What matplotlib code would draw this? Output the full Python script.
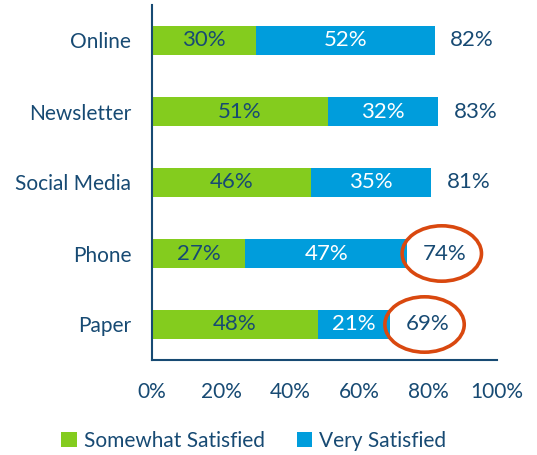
import matplotlib
matplotlib.use("Agg")
import matplotlib.pyplot as plt
from matplotlib.patches import Ellipse
import numpy as np

categories = ["Online", "Newsletter", "Social Media", "Phone", "Paper"]
somewhat = [30, 51, 46, 27, 48]
very = [52, 32, 35, 47, 21]
totals = [82, 83, 81, 74, 69]
highlighted = ["Phone", "Paper"]
xticks = [0, 20, 40, 60, 80, 100]

GREEN = "#84CC1E"
BLUE = "#009DDC"
NAVY = "#174A73"
RED = "#D9480F"

plt.rcParams['font.family'] = ['Lato', 'DejaVu Sans']

fig = plt.figure(figsize=(5.37, 4.55), dpi=100)
ax = fig.add_axes([152/537, 1 - 360/455, (497-152)/537, (360-5)/455])

y = np.arange(len(categories))[::-1]
ax.barh(y, somewhat, height=0.4, color=GREEN, label="Somewhat Satisfied")
ax.barh(y, very, left=somewhat, height=0.4, color=BLUE, label="Very Satisfied")

for yi, s, v, t, c in zip(y, somewhat, very, totals, categories):
    ax.text(s / 2, yi, f"{s}%", ha="center", va="center", color=NAVY, fontsize=16)
    ax.text(s + v / 2, yi, f"{v}%", ha="center", va="center", color="white", fontsize=16)
    ax.annotate(f"{t}%", xy=(s + v, yi), xytext=(11, 0), textcoords="offset points",
                ha="left", va="center", color=NAVY, fontsize=16)
    if c in highlighted:
        ax.add_patch(Ellipse((t + 10, yi), width=23, height=0.78, fill=False,
                             edgecolor=RED, linewidth=2.6, clip_on=False))

ax.set_xlim(0, 100)
ax.set_ylim(-0.5, 4.5)
ax.set_yticks(y)
ax.set_yticklabels(categories)
ax.set_xticks(xticks)
ax.set_xticklabels([f"{x}%" for x in xticks])
ax.tick_params(axis="y", length=0, labelsize=15, colors=NAVY, pad=15)
ax.tick_params(axis="x", length=0, labelsize=15, colors=NAVY, pad=16)
for side in ["top", "right"]:
    ax.spines[side].set_visible(False)
for side in ["left", "bottom"]:
    ax.spines[side].set_color(NAVY)
    ax.spines[side].set_linewidth(1.5)

leg = fig.legend(loc="center", bbox_to_anchor=(254/537, 1 - 441/455), ncol=2,
                 frameon=False, fontsize=15, handlelength=0.75, handleheight=0.75,
                 handletextpad=0.35, columnspacing=1.5)
for t in leg.get_texts():
    t.set_color(NAVY)

fig.savefig("out.png", dpi=100)
